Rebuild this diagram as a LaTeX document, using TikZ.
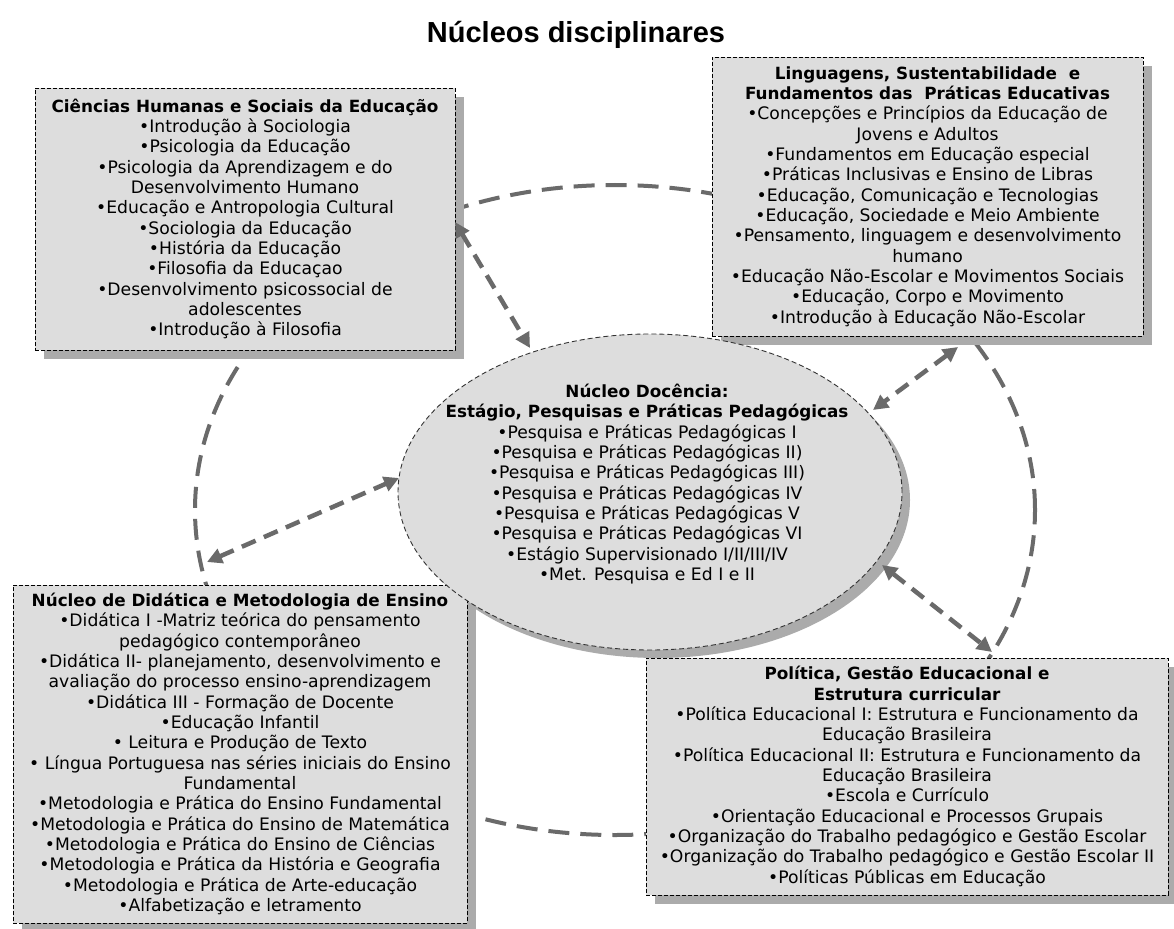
\documentclass[tikz,border=0pt]{standalone}
\usepackage{fontspec}
\setmainfont{DejaVu Sans}
\newfontfamily\titlefont{Liberation Sans}
\usetikzlibrary{arrows.meta,shapes.geometric}
\definecolor{boxfill}{HTML}{DDDDDD}
\definecolor{shadowgray}{HTML}{ABABAB}
\definecolor{linkgray}{HTML}{6A6A6A}
\definecolor{rimgray}{HTML}{333333}
\newcommand{\hd}[1]{{\fontsize{16.8}{20.35}\selectfont\bfseries #1}}
\begin{document}
\begin{tikzpicture}[x=1pt,y=-1pt,
  every node/.style={inner sep=0pt, outer sep=0pt},
  ringstyle/.style={ellipse, draw=linkgray, line width=4pt, dash pattern=on 21pt off 11pt, minimum width=840pt, minimum height=650pt},
  boxstyle/.style={rectangle, draw=black, line width=0.9pt, dash pattern=on 4pt off 2pt, fill=boxfill, align=center, font=\fontsize{17.2}{20.35}\selectfont},
  shadowbox/.style={rectangle, fill=shadowgray},
  ovalstyle/.style={ellipse, draw=rimgray, line width=0.9pt, dash pattern=on 5pt off 3pt, fill=boxfill, minimum width=504pt, minimum height=316pt},
  ovalshadow/.style={ellipse, fill=shadowgray, minimum width=504pt, minimum height=316pt},
  ovaltext/.style={align=center, font=\fontsize{17.2}{20.35}\selectfont},
  link/.style={draw=linkgray, line width=4.5pt, dash pattern=on 15pt off 9pt, {Triangle[length=15pt,width=15pt]}-{Triangle[length=15pt,width=15pt]}},
  titlestyle/.style={font=\titlefont\bfseries\fontsize{29}{34}\selectfont}
]
\useasboundingbox (0,0) rectangle (1174,928);
\fill[white] (0,0) rectangle (1174,928);

% title
\node[titlestyle] (title) at (576,35) {Núcleos disciplinares};

% big dashed ring behind everything
\node[ringstyle] (ring) at (615,510) {};

% shadows
\node[shadowbox, minimum width=420pt, minimum height=262pt] (tlshadow) at (254,228) {};
\node[shadowbox, minimum width=431pt, minimum height=279pt] (trshadow) at (936.5,205.5) {};
\node[shadowbox, minimum width=454pt, minimum height=338pt] (blshadow) at (249,763) {};
\node[shadowbox, minimum width=522pt, minimum height=237pt] (brshadow) at (916,785.5) {};
\node[ovalshadow] (docshadow) at (658,500) {};

% boxes
\node[boxstyle, minimum width=420pt, minimum height=262pt] (tl) at (245,219) {%
\hd{Ciências Humanas e Sociais da Educação}\\
•Introdução à Sociologia\\
•Psicologia da Educação\\
•Psicologia da Aprendizagem e do\\
Desenvolvimento Humano\\
•Educação e Antropologia Cultural\\
•Sociologia da Educação\\
•História da Educação\\
•Filosofia da Educaçao\\
•Desenvolvimento psicossocial de\\
adolescentes\\
•Introdução à Filosofia};

\node[boxstyle, minimum width=431pt, minimum height=279pt] (tr) at (927.5,196.5) {%
\hd{Linguagens, Sustentabilidade\ \ e}\\
\hd{Fundamentos das\ \ Práticas Educativas}\\
•Concepções e Princípios da Educação de\\
Jovens e Adultos\\
•Fundamentos em Educação especial\\
•Práticas Inclusivas e Ensino de Libras\\
•Educação, Comunicação e Tecnologias\\
•Educação, Sociedade e Meio Ambiente\\
•Pensamento, linguagem e desenvolvimento\\
humano\\
•Educação Não-Escolar e Movimentos Sociais\\
•Educação, Corpo e Movimento\\
•Introdução à Educação Não-Escolar};

\node[boxstyle, minimum width=454pt, minimum height=338pt] (bl) at (240,754) {%
\hd{Núcleo de Didática e Metodologia de Ensino}\\
•Didática I -Matriz teórica do pensamento\\
pedagógico contemporâneo\\
•Didática II- planejamento, desenvolvimento e\\
avaliação do processo ensino-aprendizagem\\
•Didática III - Formação de Docente\\
•Educação Infantil\\
• Leitura e Produção de Texto\\
• Língua Portuguesa nas séries iniciais do Ensino\\
Fundamental\\
•Metodologia e Prática do Ensino Fundamental\\
•Metodologia e Prática do Ensino de Matemática\\
•Metodologia e Prática do Ensino de Ciências\\
•Metodologia e Prática da História e Geografia\\
•Metodologia e Prática de Arte-educação\\
•Alfabetização e letramento};

\node[boxstyle, minimum width=522pt, minimum height=237pt] (br) at (907,776.5) {%
\hd{Política, Gestão Educacional e}\\
\hd{Estrutura curricular}\\
•Política Educacional I: Estrutura e Funcionamento da\\
Educação Brasileira\\
•Política Educacional II: Estrutura e Funcionamento da\\
Educação Brasileira\\
•Escola e Currículo\\
•Orientação Educacional e Processos Grupais\\
•Organização do Trabalho pedagógico e Gestão Escolar\\
•Organização do Trabalho pedagógico e Gestão Escolar II\\
•Políticas Públicas em Educação};

% central ellipse
\node[ovalstyle] (doc) at (650,492) {};
\node[ovaltext] (doctext) at (647,484) {%
\hd{Núcleo Docência:}\\
\hd{Estágio, Pesquisas e Práticas Pedagógicas}\\
•Pesquisa e Práticas Pedagógicas I\\
•Pesquisa e Práticas Pedagógicas II)\\
•Pesquisa e Práticas Pedagógicas III)\\
•Pesquisa e Práticas Pedagógicas IV\\
•Pesquisa e Práticas Pedagógicas V\\
•Pesquisa e Práticas Pedagógicas VI\\
•Estágio Supervisionado I/II/III/IV\\
•Met. Pesquisa e Ed I e II};

% connector end points
\coordinate (tlend) at (455,222);
\coordinate (doctl) at (530,348);
\coordinate (blend) at (207,562);
\coordinate (docl) at (399,478);
\coordinate (trend) at (958,347);
\coordinate (doctr) at (873,410);
\coordinate (docbr) at (882,565);
\coordinate (brend) at (992,652);

\draw[link] (tlend) -- (doctl);
\draw[link] (blend) -- (docl);
\draw[link] (trend) -- (doctr);
\draw[link] (docbr) -- (brend);
\end{tikzpicture}
\end{document}
